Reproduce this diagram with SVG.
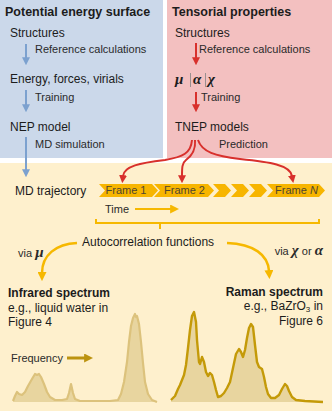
<svg xmlns="http://www.w3.org/2000/svg" width="332" height="411" viewBox="0 0 332 411">
<defs>
<style>
text{font-family:"Liberation Sans",Arial,sans-serif;fill:#1c1c1c}
.title{font-size:12.5px;font-weight:bold}
.big{font-size:12px}
.lab{font-size:11px;fill:#2a2a2a}
.frm{font-size:11px;fill:#4f4630}
.greek{font-family:"Liberation Serif","Times New Roman",serif;font-style:italic;font-weight:bold;font-size:15px}
.blue{stroke:#7ca1cf;stroke-width:2;fill:none}
.red{stroke:#d8302c;stroke-width:2;fill:none}
.yel{stroke:#f6b800;fill:none}
.chev{fill:#f7b500}
</style>
<marker id="ab" viewBox="0 0 10 10" refX="1" refY="5" markerUnits="userSpaceOnUse" markerWidth="8" markerHeight="8" orient="auto"><path d="M0,0 L10,5 L0,10 z" fill="#7ca1cf"/></marker>
<marker id="ar" viewBox="0 0 10 10" refX="1" refY="5" markerUnits="userSpaceOnUse" markerWidth="8" markerHeight="8" orient="auto"><path d="M0,0 L10,5 L0,10 z" fill="#d8302c"/></marker>
<marker id="ay" viewBox="0 0 10 10" refX="1" refY="5" markerUnits="userSpaceOnUse" markerWidth="9" markerHeight="9" orient="auto"><path d="M0,0 L10,5 L0,10 z" fill="#f6b800"/></marker>
<marker id="ag" viewBox="0 0 10 10" refX="1" refY="5" markerUnits="userSpaceOnUse" markerWidth="9" markerHeight="9" orient="auto"><path d="M0,0 L10,5 L0,10 z" fill="#bc930f"/></marker>
</defs>

<g id="panels">
<rect x="0" y="0" width="163" height="158" fill="#cbd8ea"/>
<rect x="167" y="0" width="165" height="158" fill="#f3c0c0"/>
<rect x="0" y="163" width="332" height="248" fill="#fef0cd"/>
</g>

<g id="pes">
<text class="title" x="5" y="16">Potential energy surface</text>
<text class="big" x="10" y="37">Structures</text>
<text class="lab" x="35" y="53">Reference calculations</text>
<text class="big" x="10" y="83">Energy, forces, virials</text>
<text class="lab" x="35" y="101">Training</text>
<text class="big" x="10" y="131">NEP model</text>
<text class="lab" x="35" y="148">MD simulation</text>
</g>

<g id="tensorial">
<text class="title" x="172" y="16">Tensorial properties</text>
<text class="big" x="175" y="37">Structures</text>
<text class="lab" x="199" y="53">Reference calculations</text>
<text class="greek" x="175" y="84">μ</text>
<line x1="190.5" y1="73" x2="190.5" y2="87" stroke="#9a8f8f" stroke-width="1"/>
<text class="greek" x="193" y="84">α</text>
<line x1="205.5" y1="73" x2="205.5" y2="87" stroke="#9a8f8f" stroke-width="1"/>
<text class="greek" x="208" y="84">χ</text>
<text class="lab" x="201" y="101">Training</text>
<text class="big" x="175" y="131">TNEP models</text>
<text class="lab" x="219" y="148">Prediction</text>
</g>

<g id="trajectory">
<text class="big" x="15" y="195">MD trajectory</text>
<path class="chev" d="M99,184 H152 L158,190.5 L152,197 H99 L105,190.5 Z"/>
<path class="chev" d="M154,184 H208 L214,190.5 L208,197 H154 L160,190.5 Z"/>
<path class="chev" d="M213,184 H225 L231,190.5 L225,197 H213 L219,190.5 Z"/>
<path class="chev" d="M231,184 H243 L249,190.5 L243,197 H231 L237,190.5 Z"/>
<path class="chev" d="M249,184 H261 L267,190.5 L261,197 H249 L255,190.5 Z"/>
<path class="chev" d="M267,184 H319 L325,190.5 L319,197 H267 L273,190.5 Z"/>
<text class="frm" x="126" y="194" text-anchor="middle">Frame 1</text>
<text class="frm" x="184.5" y="194" text-anchor="middle">Frame 2</text>
<text class="frm" x="296.5" y="194" text-anchor="middle">Frame <tspan font-style="italic">N</tspan></text>
<text class="lab" x="105" y="213">Time</text>
<path class="yel" stroke-width="2" d="M96,219 V223 H319 V219 M160,223 V229"/>
<text class="big" x="82" y="246">Autocorrelation functions</text>
</g>

<g id="infrared">
<text class="lab" x="18" y="257">via <tspan class="greek" font-size="14px">μ</tspan></text>
<text class="big" x="8" y="297" font-weight="bold">Infrared spectrum</text>
<text class="big" x="8" y="312">e.g., liquid water in</text>
<text class="big" x="8" y="326">Figure 4</text>
<text class="lab" x="11" y="362">Frequency</text>
<path d="M13,402 L15,396 L17,392 L19,394 L22,395 L25,392 L28,386 L32,379 L35,374 L37,375 L39,374 L41,377 L44,384 L47,392 L50,397 L55,400 L62,400 L67,399 L69,393 L71,384 L73,393 L75,399 L80,401 L110,401 L118,400 L121,394 L124,382 L127,362 L129,342 L131,326 L133,318 L135,314 L136,317 L137,316 L139,324 L141,342 L143,363 L145,382 L148,394 L152,400 L157,402 Z" fill="#e6d29a" opacity="0.9"/>
<path d="M13,401 L15,396 L17,392 L19,394 L22,395 L25,392 L28,386 L32,379 L35,374 L37,375 L39,374 L41,377 L44,384 L47,392 L50,397 L55,400 L62,400 L67,399 L69,393 L71,384 L73,393 L75,399 L80,401 L110,401 L118,400 L121,394 L124,382 L127,362 L129,342 L131,326 L133,318 L135,314 L136,317 L137,316 L139,324 L141,342 L143,363 L145,382 L148,394 L152,400 L157,402" fill="none" stroke="#dcc27c" stroke-width="2.2" stroke-linejoin="round"/>
</g>

<g id="raman">
<text class="lab" x="323" y="255" text-anchor="end">via <tspan class="greek" font-size="14px">χ</tspan> or <tspan class="greek" font-size="14px">α</tspan></text>
<text class="big" x="323" y="296" text-anchor="end" font-weight="bold">Raman spectrum</text>
<text class="big" x="323" y="310" text-anchor="end">e.g., BaZrO<tspan font-size="8px" dy="2">3</tspan><tspan dy="-2"> in</tspan></text>
<text class="big" x="323" y="325" text-anchor="end">Figure 6</text>
<path d="M171,402 L171,400 L175,396 L178,389 L180,385 L182,380 L184,375 L186,365 L188,348 L190,330 L192,316 L194,312 L196,322 L197,340 L199,362 L200,364 L202,357 L204,362 L206,372 L208,376 L210,373 L212,375 L214,382 L216,390 L218,397 L221,396 L224,393 L227,388 L230,382 L233,368 L236,354 L239,349 L241,352 L243,357 L245,350 L247,338 L249,328 L251,324 L253,327 L255,345 L257,362 L259,367 L262,369 L264,377 L266,387 L268,394 L271,398 L275,398 L279,395 L282,389 L285,384 L287,386 L289,391 L292,397 L296,400 L305,401 L323,402 Z" fill="#e6d29a" opacity="0.9"/>
<path d="M171,400 L175,396 L178,389 L180,385 L182,380 L184,375 L186,365 L188,348 L190,330 L192,316 L194,312 L196,322 L197,340 L199,362 L200,364 L202,357 L204,362 L206,372 L208,376 L210,373 L212,375 L214,382 L216,390 L218,397 L221,396 L224,393 L227,388 L230,382 L233,368 L236,354 L239,349 L241,352 L243,357 L245,350 L247,338 L249,328 L251,324 L253,327 L255,345 L257,362 L259,367 L262,369 L264,377 L266,387 L268,394 L271,398 L275,398 L279,395 L282,389 L285,384 L287,386 L289,391 L292,397 L296,400 L305,401 L323,402" fill="none" stroke="#c49a08" stroke-width="2.4" stroke-linejoin="round"/>
</g>

<g id="connectors">
<path class="blue" d="M26,44 V58" marker-end="url(#ab)"/>
<path class="blue" d="M26,90 V105" marker-end="url(#ab)"/>
<path class="blue" d="M26,137 V170" marker-end="url(#ab)"/>
<path class="red" d="M196,43 V58" marker-end="url(#ar)"/>
<path class="red" d="M196,92 V105" marker-end="url(#ar)"/>
<path class="red" d="M192,140 C191,153 183,157 165,160 C140,163 124,166 123,176" marker-end="url(#ar)"/>
<path class="red" d="M195,140 C196,152 190,157 186,160 C182,163 182,168 182,176" marker-end="url(#ar)"/>
<path class="red" d="M198,140 C202,152 215,156 240,159 C270,162 290,165 292,176" marker-end="url(#ar)"/>
<path class="yel" stroke-width="2" d="M135,209 H171" marker-end="url(#ay)"/>
<path class="yel" stroke-width="2.5" d="M77,243 C56,244 42,255 42,273" marker-end="url(#ay)"/>
<path class="yel" stroke-width="2.5" d="M227,243 C254,244 268,255 269,271" marker-end="url(#ay)"/>
<path d="M67,358 H85" stroke="#bc930f" stroke-width="3" fill="none" marker-end="url(#ag)"/>
</g>
</svg>
